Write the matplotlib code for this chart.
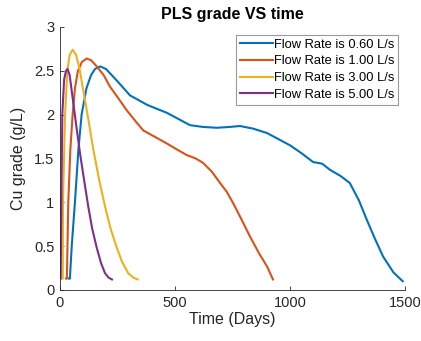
import matplotlib
matplotlib.use("Agg")
import matplotlib.pyplot as plt
from matplotlib.ticker import FormatStrFormatter

# Days / grade (g/L)
t_060 = [39, 43, 51, 65, 80, 94, 115, 135, 152, 175, 200, 250, 304, 380, 465, 565,
         620, 682, 740, 783, 840, 900, 1000, 1050, 1100, 1140, 1174, 1220, 1260,
         1300, 1334, 1370, 1405, 1450, 1490]
g_060 = [0.13, 0.13, 0.5, 1.0, 1.6, 2.0, 2.3, 2.45, 2.52, 2.55, 2.52, 2.38, 2.22,
         2.11, 2.02, 1.88, 1.86, 1.85, 1.86, 1.87, 1.84, 1.79, 1.65, 1.56, 1.46,
         1.44, 1.37, 1.30, 1.22, 1.02, 0.80, 0.58, 0.38, 0.20, 0.10]

t_100 = [26, 30, 36, 45, 55, 65, 78, 95, 116, 135, 160, 190, 217, 250, 290, 330,
         362, 410, 465, 510, 550, 590, 622, 660, 696, 725, 753, 790, 826, 865,
         900, 926]
g_100 = [0.13, 0.13, 1.0, 1.6, 2.0, 2.3, 2.5, 2.6, 2.64, 2.62, 2.55, 2.45, 2.32,
         2.2, 2.05, 1.92, 1.82, 1.75, 1.67, 1.60, 1.54, 1.50, 1.45, 1.35, 1.22,
         1.12, 0.99, 0.80, 0.61, 0.42, 0.27, 0.12]

t_300 = [12, 13, 22, 32, 42, 55, 70, 85, 101, 123, 145, 170, 196, 220, 246, 270,
         297, 320, 338]
g_300 = [0.13, 1.0, 2.0, 2.5, 2.68, 2.74, 2.68, 2.52, 2.28, 1.95, 1.6, 1.26, 0.95,
         0.70, 0.49, 0.32, 0.19, 0.14, 0.12]

t_500 = [3, 6, 10, 18, 26, 33, 42, 58, 72, 87, 105, 123, 140, 159, 178, 196, 212, 226]
g_500 = [0.13, 1.0, 2.0, 2.4, 2.5, 2.52, 2.45, 2.13, 1.85, 1.56, 1.25, 0.95, 0.70,
         0.49, 0.31, 0.19, 0.14, 0.12]

series = [
    (t_060, g_060, "Flow Rate is 0.60 L/s", "#0072BD"),
    (t_100, g_100, "Flow Rate is 1.00 L/s", "#D95319"),
    (t_300, g_300, "Flow Rate is 3.00 L/s", "#EDB120"),
    (t_500, g_500, "Flow Rate is 5.00 L/s", "#7E2F8E"),
]

plt.rcParams["font.family"] = ["Liberation Sans", "DejaVu Sans"]

fig = plt.figure(figsize=(4.21, 3.41), dpi=100)
ax = fig.add_axes([0.1425, 0.1496, 0.8195, 0.7714])

for t, g, label, color in series:
    ax.plot(t, g, color=color, linewidth=1.5, label=label)

ax.set_xlim(0, 1500)
ax.set_ylim(0, 3)
ax.set_xticks([0, 500, 1000, 1500])
ax.set_yticks([0, 0.5, 1, 1.5, 2, 2.5, 3])
ax.yaxis.set_major_formatter(FormatStrFormatter("%g"))

ax.spines["top"].set_visible(False)
ax.spines["right"].set_visible(False)
for s in ["left", "bottom"]:
    ax.spines[s].set_color("#262626")
    ax.spines[s].set_linewidth(0.6)
ax.tick_params(direction="in", length=3, width=0.6, colors="#262626",
               labelsize=10.5, pad=4)

ax.set_xlabel("Time (Days)", fontsize=11.5, color="#262626", labelpad=2)
ax.set_ylabel("Cu grade (g/L)", fontsize=11.5, color="#262626", labelpad=6)
ax.set_title("PLS grade VS time", fontsize=11.5, fontweight="bold", pad=6)

leg = ax.legend(loc="upper right", bbox_to_anchor=(0.98, 0.97), fontsize=9.3,
                frameon=True, fancybox=False, borderpad=0.3, labelspacing=0.36,
                handlelength=2.55, handletextpad=0.05, borderaxespad=0)
leg.get_frame().set_edgecolor("#808080")
leg.get_frame().set_linewidth(0.8)

fig.savefig("out.png", dpi=100)
